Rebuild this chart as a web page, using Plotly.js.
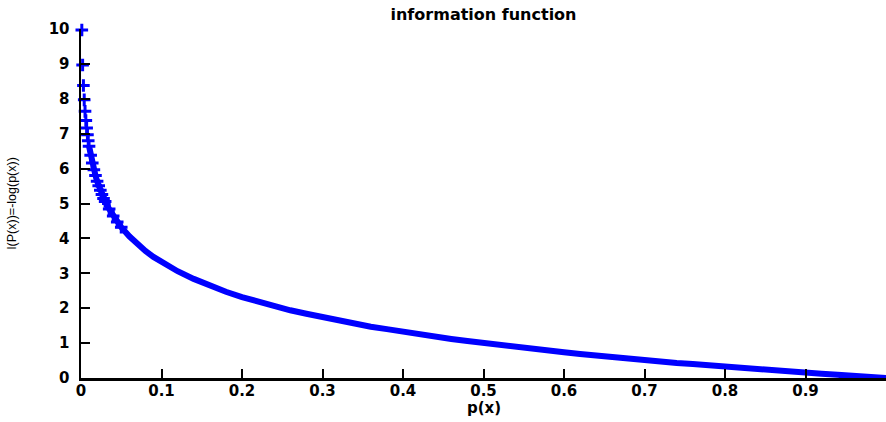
<!DOCTYPE html>
<html>
<head>
<meta charset="utf-8">
<script src="https://cdn.plot.ly/plotly-3.0.1.min.js"></script>
<style>html,body{margin:0;padding:0;background:#fff;overflow:hidden}#chart{width:886px;height:422px}</style>
</head>
<body>
<div id="chart"></div>
<script>
// p(x) values and the information I(P(x))
const px = [0.001,0.002,0.003,0.004,0.005,0.006,0.007,0.008,0.009,0.010,
  0.012,0.014,0.016,0.018,0.020,0.022,0.024,0.026,0.028,0.030,
  0.035,0.040,0.045,0.050,0.060,0.070,0.080,0.090,0.100,
  0.12,0.14,0.16,0.18,0.20,0.22,0.24,0.26,0.28,0.30,
  0.32,0.34,0.36,0.38,0.40,0.42,0.44,0.46,0.48,0.50,
  0.52,0.54,0.56,0.58,0.60,0.62,0.64,0.66,0.68,0.70,
  0.72,0.74,0.76,0.78,0.80,0.82,0.84,0.86,0.88,0.90,
  0.92,0.94,0.96,0.98,1.00];
const info = [9.97,8.97,8.38,7.97,7.64,7.38,7.16,6.97,6.80,6.64,
  6.38,6.16,5.97,5.80,5.64,5.51,5.38,5.26,5.14,5.06,
  4.84,4.64,4.47,4.32,4.06,3.84,3.64,3.47,3.32,
  3.06,2.84,2.64,2.47,2.32,2.18,2.06,1.94,1.84,1.74,
  1.64,1.56,1.47,1.40,1.32,1.25,1.18,1.12,1.06,1.00,
  0.94,0.89,0.84,0.79,0.74,0.69,0.64,0.60,0.56,0.51,
  0.47,0.43,0.40,0.36,0.32,0.29,0.25,0.22,0.18,0.15,
  0.12,0.09,0.06,0.03,0.00];
const xTicks = [0,0.1,0.2,0.3,0.4,0.5,0.6,0.7,0.8,0.9,1];
const xTickText = ['0','0.1','0.2','0.3','0.4','0.5','0.6','0.7','0.8','0.9','1'];
const yTicks = [0,1,2,3,4,5,6,7,8,9,10];
const yTickText = ['0','1','2','3','4','5','6','7','8','9','10'];

const FONT = 'DejaVu Sans, Verdana, sans-serif';
const tickFont = {family:FONT, size:15, color:'#000', weight:'bold'};
const bandStart = 9;   // continuous dense band begins around p(x)=0.01
const markerEnd = 24;  // individual crosses still visible up to p(x)=0.05

Plotly.newPlot('chart', [{
  x: px.slice(bandStart), y: info.slice(bandStart),
  type: 'scatter', mode: 'lines',
  line: {color:'#0000ff', width:6},
  hoverinfo: 'skip', showlegend: false
}, {
  x: px.slice(0, markerEnd), y: info.slice(0, markerEnd),
  type: 'scatter', mode: 'markers',
  marker: {symbol:'cross-thin', size:9, color:'#0000ff', line:{color:'#0000ff', width:3}},
  cliponaxis: false,
  showlegend: false
}], {
  width: 886, height: 422,
  margin: {l:81, r:0, t:29, b:44, pad:0},
  paper_bgcolor:'#fff', plot_bgcolor:'#fff',
  title: {text:'information function', x:0.5, xref:'paper', y:0.966, yref:'container', yanchor:'middle',
    font:{family:FONT, size:16, color:'#000', weight:'bold'}},
  xaxis: {
    range:[0,1], tickvals:xTicks, ticktext:xTickText,
    ticks:'inside', ticklen:9, tickwidth:2, tickcolor:'#000',
    showline:true, linecolor:'#000', linewidth:2.5, mirror:false,
    showgrid:false, zeroline:false, tickfont:tickFont, ticklabelstandoff:-3
  },
  yaxis: {
    range:[0,10], tickvals:yTicks, ticktext:yTickText,
    ticks:'inside', ticklen:9, tickwidth:2, tickcolor:'#000',
    showline:true, linecolor:'#000', linewidth:2.5, mirror:false,
    showgrid:false, zeroline:false, tickfont:tickFont, ticklabelstandoff:6,
    title:{text:'I(P(x))=-log(p(x))', standoff:30, font:{family:'Liberation Sans, Arial, sans-serif', size:12.5, color:'#000'}}
  },
  annotations: [{
    text:'p(x)', xref:'paper', yref:'paper', x:0.5, y:-0.086, xanchor:'center', yanchor:'middle',
    showarrow:false, font:{family:FONT, size:15, color:'#000', weight:'bold'}
  }]
}, {displayModeBar:false, staticPlot:true});
</script>
</body>
</html>
